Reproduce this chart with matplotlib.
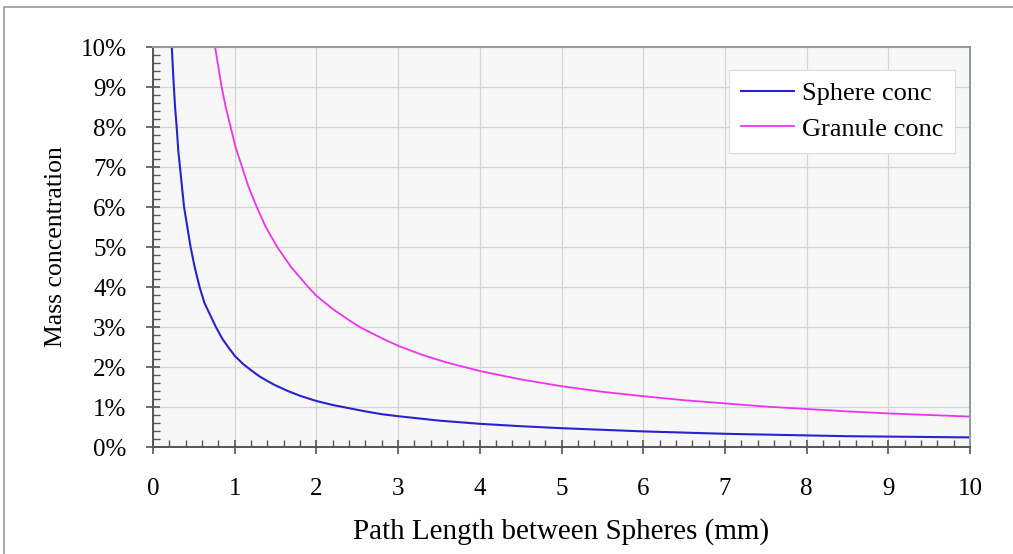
import matplotlib.pyplot as plt
from matplotlib.patches import Rectangle
from matplotlib.ticker import MultipleLocator, FuncFormatter

# values (x in mm, y in %)
sphere_x = [0.23, 0.25, 0.27, 0.29, 0.31, 0.33, 0.35, 0.38, 0.42, 0.46, 0.51, 0.57,
            0.63, 0.70, 0.77, 0.85, 0.92, 1.0, 1.1, 1.2, 1.3, 1.4, 1.5, 1.65, 1.8,
            2.0, 2.2, 2.4, 2.6, 2.8, 3.0, 3.5, 4.0, 4.5, 5.0, 5.5, 6.0, 6.5, 7.0,
            7.5, 8.0, 8.5, 9.0, 9.5, 10.0]
sphere_y = [10.0, 9.2, 8.5, 8.0, 7.4, 7.0, 6.6, 6.0, 5.5, 5.0, 4.5, 4.0,
            3.6, 3.3, 3.0, 2.7, 2.5, 2.28, 2.08, 1.92, 1.77, 1.65, 1.54, 1.40, 1.28,
            1.15, 1.05, 0.97, 0.89, 0.82, 0.77, 0.66, 0.58, 0.52, 0.47, 0.43, 0.39, 0.36, 0.33,
            0.31, 0.29, 0.27, 0.26, 0.25, 0.24]
granule_x = [0.76, 0.80, 0.84, 0.89, 0.95, 1.01, 1.09, 1.17, 1.27, 1.38, 1.52, 1.69,
             1.9, 2.0, 2.2, 2.4, 2.53, 2.8, 3.0, 3.3, 3.6, 4.0, 4.5, 5.0, 5.5, 6.0,
             6.5, 7.0, 7.5, 8.0, 8.5, 9.0, 9.5, 10.0]
granule_y = [10.0, 9.5, 9.0, 8.5, 8.0, 7.5, 7.0, 6.5, 6.0, 5.5, 5.0, 4.5,
             4.0, 3.78, 3.45, 3.17, 3.0, 2.72, 2.53, 2.3, 2.11, 1.9, 1.69, 1.52, 1.38, 1.27,
             1.17, 1.09, 1.01, 0.95, 0.89, 0.84, 0.80, 0.76]

plt.rcParams['font.family'] = ['Liberation Serif', 'DejaVu Serif']

fig = plt.figure(figsize=(10.13, 5.54), dpi=100)
fig.patches.append(Rectangle((4 / 1013, -0.1), 1.2, 1.1 - 7 / 554,
                             transform=fig.transFigure, fill=False,
                             edgecolor='#999999', lw=1.2))
ax = fig.add_axes([153 / 1013, 1 - 447 / 554, 817 / 1013, 400 / 554])
ax.set_facecolor('#f7f7f7')

ax.plot(sphere_x, sphere_y, color='#2a22cc', lw=1.5, label='Sphere conc')
ax.plot(granule_x, granule_y, color='#ee33ee', lw=1.3, label='Granule conc')

ax.set_xlim(0, 10)
ax.set_ylim(0, 10)
ax.xaxis.set_major_locator(MultipleLocator(1))
ax.xaxis.set_minor_locator(MultipleLocator(0.2))
ax.yaxis.set_major_locator(MultipleLocator(1))
ax.yaxis.set_minor_locator(MultipleLocator(0.2))
ax.yaxis.set_major_formatter(FuncFormatter(lambda v, p: f"{v:.0f}%"))

ax.grid(True, which='major', color='#d4d4d4', lw=0.9)
ax.set_axisbelow(True)
ax.tick_params(which='major', direction='inout', length=10, width=1.2,
               color='#555555', labelsize=18)
ax.tick_params(axis='x', which='major', pad=17)
ax.tick_params(axis='y', which='major', pad=14)
ax.tick_params(which='minor', direction='in', length=5, width=1, color='#555555')

for s in ['left', 'bottom']:
    ax.spines[s].set_color('#555555')
    ax.spines[s].set_linewidth(1.4)
for s in ['top', 'right']:
    ax.spines[s].set_color('#8c9c9c')
    ax.spines[s].set_linewidth(1.4)

ax.set_xlabel('Path Length between Spheres (mm)', fontsize=21, labelpad=13)
ax.set_ylabel('Mass concentration', fontsize=18.5, labelpad=10)

leg = ax.legend(loc='upper right', bbox_to_anchor=(0.9816, 0.9425), borderaxespad=0,
                fontsize=19, frameon=True, fancybox=False, framealpha=1,
                edgecolor='#dddddd', handlelength=2.0, handletextpad=0.3,
                borderpad=0.45, labelspacing=0.45)
leg.get_frame().set_linewidth(0.8)

fig.savefig('out.png', dpi=100)
